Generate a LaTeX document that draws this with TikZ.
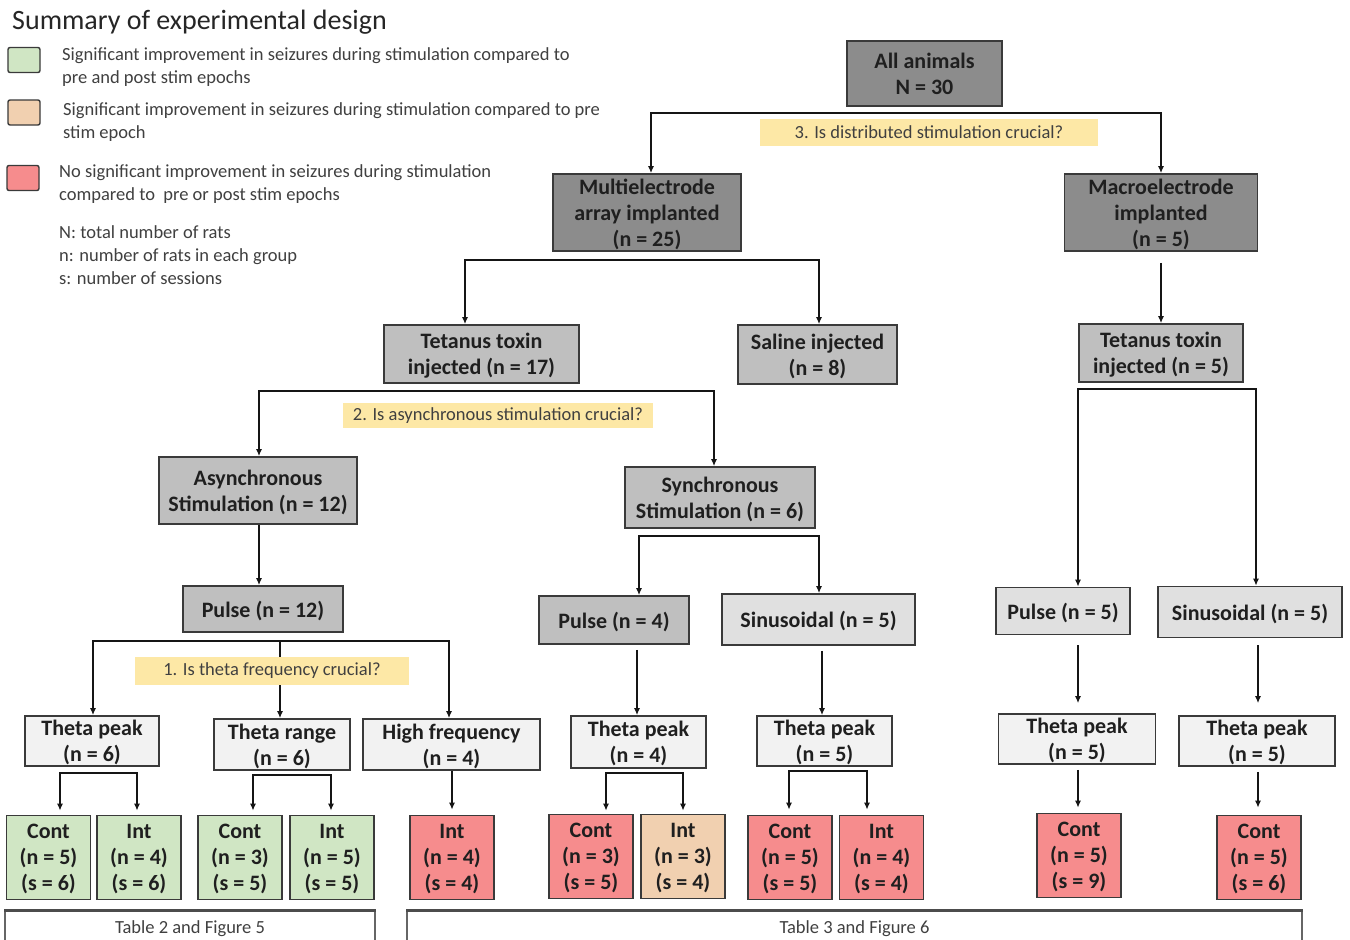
\documentclass[tikz,border=0pt]{standalone}
\usepackage{fontspec}
\setmainfont{Carlito}
\usetikzlibrary{arrows.meta}
\definecolor{gDark}{HTML}{8C8C8C}
\definecolor{gMid}{HTML}{BFBFBF}
\definecolor{gLight}{HTML}{E0E0E0}
\definecolor{gPale}{HTML}{F2F2F2}
\definecolor{cgreen}{HTML}{D0E6C4}
\definecolor{ctan}{HTML}{F1D0B0}
\definecolor{cred}{HTML}{F68C8D}
\definecolor{qyellow}{HTML}{FDE8A6}
\definecolor{boxline}{HTML}{3A3A3A}
\definecolor{nodetext}{HTML}{1F1F1F}
\definecolor{softtext}{HTML}{404040}
\definecolor{connc}{HTML}{151515}
\tikzset{
  box/.style={draw=boxline, line width=1.6pt, inner sep=0pt, align=center, text=nodetext,
    text depth=0pt, font=\fontsize{22}{26}\selectfont\bfseries},
  darkbox/.style={box, fill=gDark},
  midbox/.style={box, fill=gMid},
  lightbox/.style={box, fill=gLight},
  palebox/.style={box, fill=gPale},
  leaf/.style={box, minimum width=84pt, minimum height=84pt},
  qbox/.style={fill=qyellow, inner sep=0pt, text=softtext, font=\fontsize{18.5}{22}\selectfont},
  legsq/.style={draw=boxline, line width=1.4pt, rounded corners=2pt, minimum width=32pt, minimum height=25pt, inner sep=0pt},
  legtext/.style={anchor=west, inner sep=0pt, align=left, text=softtext, font=\fontsize{18.5}{23}\selectfont},
  tablebox/.style={draw=gray!80!black, line width=1.2pt, inner sep=0pt, text=softtext, font=\fontsize{18.5}{22}\selectfont},
  conn/.style={line width=2pt, draw=connc, -{Latex[length=7pt,width=6pt]}},
  conn2/.style={line width=2pt, draw=connc, {Latex[length=7pt,width=6pt]}-{Latex[length=7pt,width=6pt]}},
}
\begin{document}
\begin{tikzpicture}[x=1pt,y=-1pt]
\fill[white] (0,0) rectangle (1350,940);
\path[use as bounding box] (0,0) rectangle (1350,940);

% title and legend
\node[anchor=west, inner sep=0pt, text=black!85, font=\fontsize{28}{32}\selectfont] (title) at (12,22) {Summary of experimental design};
\node[legsq, fill=cgreen] (lg1) at (24,60) {};
\node[legsq, fill=ctan] (lg2) at (24,112.5) {};
\node[legsq, fill=cred] (lg3) at (23,178) {};
\node[legtext] (lt1) at (62,67) {Significant improvement in seizures during stimulation compared to\\pre and post stim epochs};
\node[legtext] (lt2) at (63,122) {Significant improvement in seizures during stimulation compared to pre\\stim epoch};
\node[legtext] (lt3) at (59,184) {No significant improvement in seizures during stimulation\\compared to\ \ pre or post stim epochs};
\node[legtext] (lt4) at (59,255) {N: total number of rats\\n: number of rats in each group\\s: number of sessions};

% level 1-2
\node[darkbox, minimum width=155pt, minimum height=65pt] (all) at (924.5,73.5) {All animals\\N = 30};
\node[darkbox, minimum width=188pt, minimum height=77pt] (multi) at (647,212.5) {Multielectrode\\array implanted\\(n = 25)};
\node[darkbox, minimum width=193pt, minimum height=77pt] (macro) at (1161,212.5) {Macroelectrode\\implanted\\(n = 5)};

% level 3
\node[midbox, minimum width=195pt, minimum height=58pt] (tet17) at (481.5,354) {Tetanus toxin\\injected (n = 17)};
\node[midbox, minimum width=159pt, minimum height=59pt] (saline) at (817.5,354.5) {Saline injected\\(n = 8)};
\node[midbox, minimum width=164pt, minimum height=58pt] (tet5) at (1161,353) {Tetanus toxin\\injected (n = 5)};

% level 4
\node[midbox, minimum width=198pt, minimum height=67pt] (async) at (258,490.5) {Asynchronous\\Stimulation (n = 12)};
\node[midbox, minimum width=190pt, minimum height=61pt] (sync) at (720,497.5) {Synchronous\\Stimulation (n = 6)};

% level 5
\node[midbox, minimum width=160pt, minimum height=46pt] (pulse12) at (263,609) {Pulse (n = 12)};
\node[midbox, minimum width=150pt, minimum height=48pt] (pulse4) at (614,620) {Pulse (n = 4)};
\node[lightbox, minimum width=193pt, minimum height=51pt] (sin5a) at (818.5,619.5) {Sinusoidal (n = 5)};
\node[lightbox, minimum width=134pt, minimum height=47pt] (pulse5) at (1063,611) {Pulse (n = 5)};
\node[lightbox, minimum width=184pt, minimum height=51pt] (sin5b) at (1250,612) {Sinusoidal (n = 5)};

% level 6
\node[palebox, minimum width=134pt, minimum height=50pt] (tp6) at (92,741) {Theta peak\\(n = 6)};
\node[palebox, minimum width=136pt, minimum height=51pt] (tr6) at (282,744.5) {Theta range\\(n = 6)};
\node[palebox, minimum width=177pt, minimum height=51pt] (hf4) at (451.5,744.5) {High frequency\\(n = 4)};
\node[palebox, minimum width=135pt, minimum height=52pt] (tp4) at (638.5,742) {Theta peak\\(n = 4)};
\node[palebox, minimum width=135pt, minimum height=50pt] (tp5a) at (824.5,741) {Theta peak\\(n = 5)};
\node[palebox, minimum width=157pt, minimum height=50pt] (tp5b) at (1077,739) {Theta peak\\(n = 5)};
\node[palebox, minimum width=156pt, minimum height=50pt] (tp5c) at (1257,741) {Theta peak\\(n = 5)};

% leaves
\node[leaf, fill=cgreen] (c1) at (48.5,857.5) {Cont\\(n = 5)\\(s = 6)};
\node[leaf, fill=cgreen] (i1) at (139,857.5) {Int\\(n = 4)\\(s = 6)};
\node[leaf, fill=cgreen] (c2) at (240,857.5) {Cont\\(n = 3)\\(s = 5)};
\node[leaf, fill=cgreen] (i2) at (332,857.5) {Int\\(n = 5)\\(s = 5)};
\node[leaf, fill=cred] (i3) at (452,857.5) {Int\\(n = 4)\\(s = 4)};
\node[leaf, fill=cred] (c3) at (591,856.5) {Cont\\(n = 3)\\(s = 5)};
\node[leaf, fill=ctan] (i4) at (683,856.5) {Int\\(n = 3)\\(s = 4)};
\node[leaf, fill=cred] (c4) at (790,857.5) {Cont\\(n = 5)\\(s = 5)};
\node[leaf, fill=cred] (i5) at (881.5,857.5) {Int\\(n = 4)\\(s = 4)};
\node[leaf, fill=cred] (c5) at (1079,855.5) {Cont\\(n = 5)\\(s = 9)};
\node[leaf, fill=cred] (c6) at (1259,857.5) {Cont\\(n = 5)\\(s = 6)};

% table boxes
\node[tablebox, minimum width=370pt, minimum height=36pt] (t2) at (190,929) {Table 2 and Figure 5};
\node[tablebox, minimum width=895pt, minimum height=36pt] (t3) at (854.5,929) {Table 3 and Figure 6};
\draw[line width=2.4pt, draw=gray!60!black] (t2.north west) -- (t2.north east);
\draw[line width=2.4pt, draw=gray!60!black] (t3.north west) -- (t3.north east);

% connectors
\coordinate (f0L) at (651,113); \coordinate (f0R) at (1161,113);
\draw[conn2] (multi.north -| f0L) -- (f0L) -- (f0R) -- (macro.north -| f0R);

\coordinate (f1L) at (465,260); \coordinate (f1R) at (819,260);
\draw[conn2] (tet17.north -| f1L) -- (f1L) -- (f1R) -- (saline.north -| f1R);

\draw[conn, shorten <=11pt] (macro.south) -- (tet5.north);

\coordinate (f2L) at (259,391); \coordinate (f2R) at (714,391);
\draw[conn2] (async.north -| f2L) -- (f2L) -- (f2R) -- (sync.north -| f2R);

\coordinate (f3L) at (1078,389); \coordinate (f3R) at (1256,389);
\draw[conn2] (pulse5.north -| f3L) -- (f3L) -- (f3R) -- (sin5b.north -| f3R);

\draw[conn] (async.south -| f2L) -- (pulse12.north -| f2L);

\coordinate (f4L) at (639,536); \coordinate (f4R) at (819,536);
\draw[conn2] (pulse4.north -| f4L) -- (f4L) -- (f4R) -- (sin5a.north -| f4R);

\coordinate (f5L) at (93,641); \coordinate (f5M) at (280,641); \coordinate (f5R) at (449,641);
\draw[conn2] (tp6.north -| f5L) -- (f5L) -- (f5R) -- (hf4.north -| f5R);
\draw[conn] (f5M) -- (tr6.north -| f5M);

\coordinate (v1) at (637,0); \coordinate (v2) at (822,0);
\coordinate (v3) at (1078,0); \coordinate (v4) at (1258,0);
\coordinate (v5) at (452,0);
\draw[conn, shorten <=5pt] (pulse4.south -| v1) -- (tp4.north -| v1);
\draw[conn, shorten <=5pt] (sin5a.south -| v2) -- (tp5a.north -| v2);
\draw[conn, shorten <=10pt, shorten >=10pt] (pulse5.south -| v3) -- (tp5b.north -| v3);
\draw[conn, shorten <=7pt, shorten >=12pt] (sin5b.south -| v4) -- (tp5c.north -| v4);
\draw[conn, shorten <=5pt, shorten >=5pt] (tp5b.south -| v3) -- (c5.north -| v3);
\draw[conn, shorten <=5pt, shorten >=7pt] (tp5c.south -| v4) -- (c6.north -| v4);
\draw[conn, shorten >=5pt] (hf4.south -| v5) -- (i3.north -| v5);

\coordinate (f6L) at (60,773); \coordinate (f6R) at (137,773);
\draw[conn2, shorten <=4pt, shorten >=4pt] (c1.north -| f6L) -- (f6L) -- (f6R) -- (i1.north -| f6R);
\coordinate (f7L) at (253,775); \coordinate (f7R) at (331,775);
\draw[conn2, shorten <=4pt, shorten >=4pt] (c2.north -| f7L) -- (f7L) -- (f7R) -- (i2.north -| f7R);
\coordinate (f8L) at (606,773); \coordinate (f8R) at (683,773);
\draw[conn2, shorten <=3pt, shorten >=3pt] (c3.north -| f8L) -- (f8L) -- (f8R) -- (i4.north -| f8R);
\coordinate (f9L) at (789,771); \coordinate (f9R) at (867,771);
\draw[conn2, shorten <=5pt, shorten >=5pt] (c4.north -| f9L) -- (f9L) -- (f9R) -- (i5.north -| f9R);

% question boxes
\node[qbox, minimum width=338pt, minimum height=27pt] (q3) at (929,132.5) {3. Is distributed stimulation crucial?};
\node[qbox, minimum width=310pt, minimum height=25pt] (q2) at (498,415.5) {2. Is asynchronous stimulation crucial?};
\node[qbox, minimum width=274pt, minimum height=28pt] (q1) at (272,671) {1. Is theta frequency crucial?};
\end{tikzpicture}
\end{document}
